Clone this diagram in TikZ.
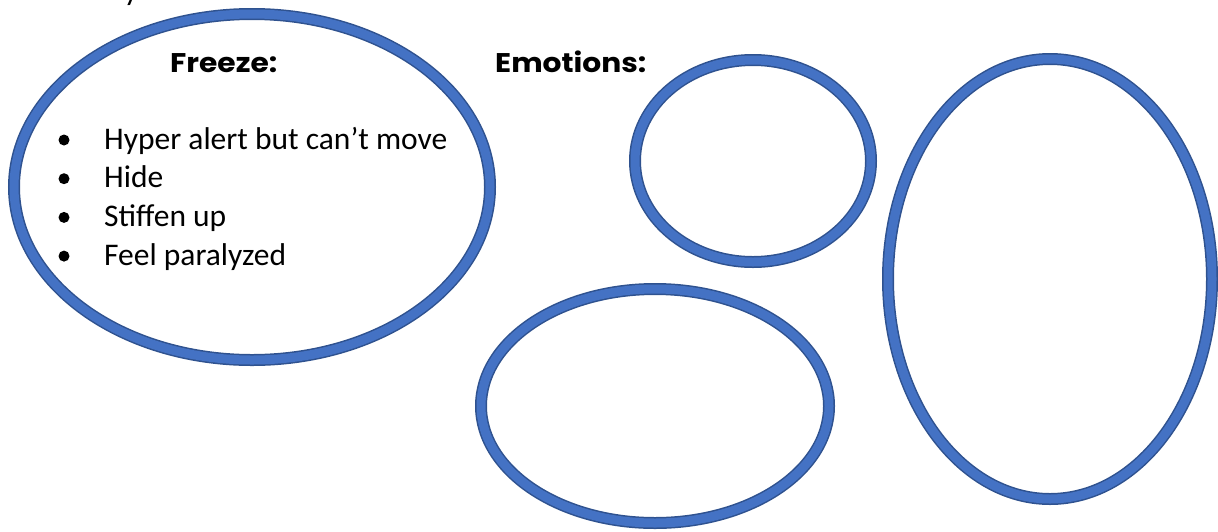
\documentclass[tikz,border=0pt]{standalone}
\usepackage{fontspec}
\setmainfont{Carlito}
\newfontfamily\headfont{Poppins}
\usetikzlibrary{shapes.geometric}
\definecolor{ringblue}{HTML}{4472C4}
\definecolor{ringedge}{HTML}{2F528F}

\begin{document}
\begin{tikzpicture}[
  x=1pt,y=-1pt,
  ring/.style={ellipse,draw=ringedge,line width=1.5pt,double=ringblue,
               double distance=9pt,inner sep=0pt,outer sep=0pt},
  head/.style={anchor=base west,inner sep=0pt,xscale=1.1,
               font=\headfont\bfseries\fontsize{27}{31}\selectfont},
  item/.style={anchor=base west,inner sep=0pt,font=\fontsize{31.5}{38}\selectfont},
  dot/.style={circle,fill=black,inner sep=0pt,minimum size=11pt}
]
\useasboundingbox (0,0) rectangle (1218,531);
% rings
\node[ring,minimum width=476pt,minimum height=346pt] (freeze) at (252,187) {};
\node[ring,minimum width=236pt,minimum height=202pt] (emoA) at (753,161) {};
\node[ring,minimum width=348pt,minimum height=234pt] (emoB) at (655,406) {};
\node[ring,minimum width=324pt,minimum height=440pt] (emoC) at (1050,279) {};
% headings
\node[head] (freezeT) at (170,72) {Freeze:};
\node[head] (emoT) at (495,72) {Emotions:};
% list
\foreach \txt [count=\i] in {Hyper alert but can’t move,Hide,Stiffen up,Feel paralyzed}{
  \node[item] (item\i) at (104,{149+38.7*(\i-1)}) {\txt};
  \node[dot] (dot\i) at (64,{140+38.7*(\i-1)}) {};
}
% cut-off line above
\node[item] (cut) at (124,0) {y};
\end{tikzpicture}
\end{document}
